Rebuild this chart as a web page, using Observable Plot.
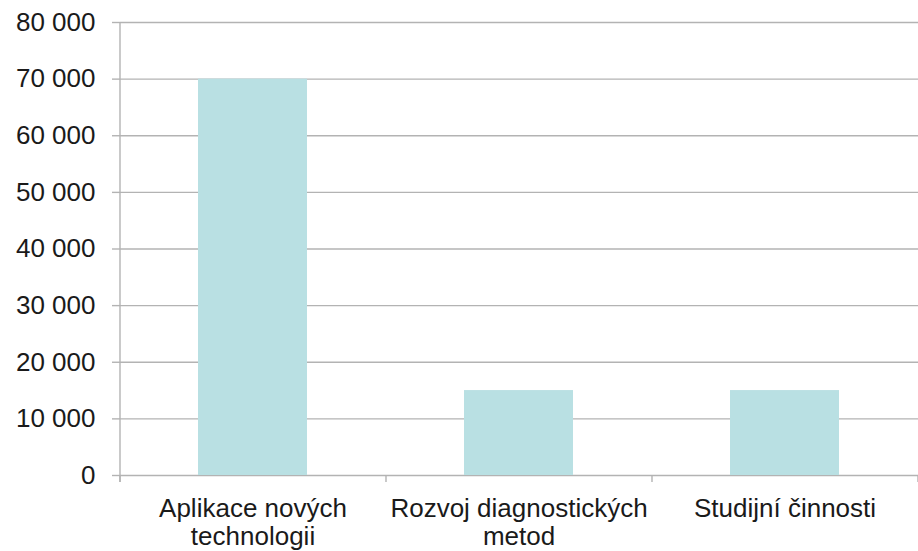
<!DOCTYPE html>
<html>
<head>
<meta charset="utf-8">
<script src="https://cdn.jsdelivr.net/npm/d3@7"></script>
<script src="https://cdn.jsdelivr.net/npm/@observablehq/plot@0.6"></script>
<style>
  html, body { margin: 0; padding: 0; background: #fff; }
  #chart { width: 918px; height: 551px; }
</style>
</head>
<body>
<div id="chart"></div>
<script>
const categories = ["Aplikace nových technologií", "Rozvoj diagnostických metod", "Studijní činnosti"];
const tickLabels = ["Aplikace nových\ntechnologii", "Rozvoj diagnostických\nmetod", "Studijní činnosti"];
const values = [70000, 15000, 15000];
const yTicks = [0, 10000, 20000, 30000, 40000, 50000, 60000, 70000, 80000];

const data = categories.map((c, i) => ({category: c, value: values[i]}));
const labelOf = new Map(categories.map((c, i) => [c, tickLabels[i]]));
const fmt = d3.formatLocale({thousands: " ", grouping: [3], decimal: ","}).format(",d");

const gridColor = "#b3b3b3";

// category boundary ticks + vertical axis line (bands are equal-width with outer padding = inner/2)
function axisLines(index, scales, vals, dimensions) {
  const {marginLeft, marginRight, marginTop, marginBottom, width, height} = dimensions;
  const n = categories.length;
  const step = (width - marginLeft - marginRight) / n;
  const bounds = d3.range(n + 1).map(k => marginLeft + k * step);
  const y0 = height - marginBottom;
  const g = d3.create("svg:g").attr("stroke", gridColor).attr("stroke-width", 1.4);
  g.append("line").attr("x1", marginLeft).attr("x2", marginLeft).attr("y1", marginTop).attr("y2", y0 + 7);
  for (const b of bounds) {
    g.append("line").attr("x1", b).attr("x2", b).attr("y1", y0).attr("y2", y0 + 7);
  }
  return g.node();
}

const chart = Plot.plot({
  width: 918,
  height: 551,
  marginLeft: 120,
  marginRight: 0,
  marginTop: 22,
  marginBottom: 76,
  style: {fontFamily: "'Liberation Sans', Arial, sans-serif", color: "#1a1a1a", background: "#fff"},
  x: {domain: categories, paddingInner: 0.59, paddingOuter: 0.295, align: 0.5, label: null},
  y: {domain: [0, 80000], label: null},
  marks: [
    Plot.ruleY(yTicks, {stroke: gridColor, strokeWidth: 1.4}),
    Plot.barY(data, {x: "category", y: "value", fill: "#b9e0e3"}),
    Plot.axisY({ticks: yTicks, tickFormat: fmt, tickSize: 8, tickPadding: 17, stroke: gridColor, strokeWidth: 1.4, fontSize: 26, label: null}),
    Plot.axisX({tickSize: 0, tickPadding: 22, tickFormat: d => labelOf.get(d), fontSize: 26, lineHeight: 1.06, label: null}),
    axisLines
  ]
});
document.getElementById("chart").appendChild(chart);
</script>
</body>
</html>
